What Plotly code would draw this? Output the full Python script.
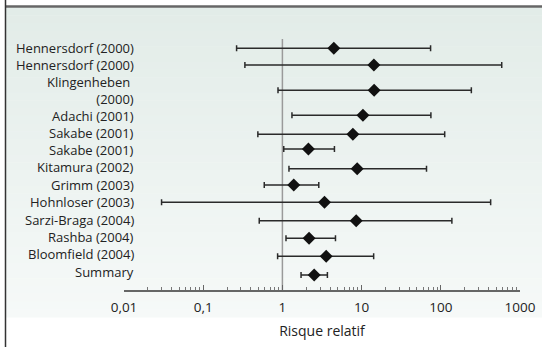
import plotly.graph_objects as go

# ---- data ----
studies = ["Hennersdorf (2000)", "Hennersdorf (2000)", "Klingenheben\u00a0<br>(2000)",
           "Adachi (2001)", "Sakabe (2001)", "Sakabe (2001)", "Kitamura (2002)",
           "Grimm (2003)", "Hohnloser (2003)", "Sarzi-Braga (2004)", "Rashba (2004)",
           "Bloomfield (2004)", "Summary"]
rr = [4.46, 14.3, 14.4, 10.4, 7.76, 2.13, 8.8, 1.39, 3.4, 8.54, 2.17, 3.57, 2.52]
ci_low = [0.264, 0.336, 0.88, 1.32, 0.49, 1.04, 1.21, 0.59, 0.0298, 0.51, 1.11, 0.87, 1.72]
ci_high = [74.3, 588, 243, 75, 112, 4.54, 66, 2.88, 426, 138, 4.68, 14.2, 3.7]
tick_vals = [0.01, 0.1, 1, 10, 100, 1000]
tick_text = ["0,01", "0,1", "1", "10", "100", "1000"]
x_title = "Risque relatif"

# row positions (vertical layout of rows / labels, in plot units = screen pixels)
row_pos = [48.3, 65, 90.3, 115.3, 134.3, 149, 168.7, 185, 202.3, 220.7, 238.3, 256.3, 275]
label_pos = [47.5, 65, 90.5, 115.5, 132.7, 150, 167.3, 185.3, 202.3, 220, 236.7, 254.3, 272.3]

# ---- layout geometry ----
W, H = 542, 347
ML, MR, MT, MB = 124, 22, 39, 57
PW, PH = W - ML - MR, H - MT - MB


def px_x(px):
    return (px - ML) / PW


def px_y(py):
    return (H - MB - py) / PH


fig = go.Figure()

fig.add_trace(go.Scatter(
    x=rr, y=row_pos, mode="markers",
    marker=dict(symbol="diamond", size=10, color="#111111"),
    error_x=dict(type="data", symmetric=False,
                 array=[h - v for h, v in zip(ci_high, rr)],
                 arrayminus=[v - l for v, l in zip(rr, ci_low)],
                 color="#2a2a2a", thickness=1.5, width=3),
    hoverinfo="skip", showlegend=False, cliponaxis=False,
))

shapes = []
# gradient background panel
top_c = (226, 236, 232)
bot_c = (246, 249, 248)
y0p, y1p = 7.5, 317
n = 40
for i in range(n):
    t = i / (n - 1)
    c = tuple(round(top_c[k] + (bot_c[k] - top_c[k]) * t) for k in range(3))
    ya = y0p + (y1p - y0p) * i / n
    yb = y0p + (y1p - y0p) * (i + 1) / n + 0.5
    shapes.append(dict(type="rect", xref="paper", yref="paper",
                       x0=px_x(6), x1=px_x(W), y0=px_y(yb), y1=px_y(ya),
                       fillcolor="rgb(%d,%d,%d)" % c, line=dict(width=0), layer="below"))
# top rule
shapes.append(dict(type="line", xref="paper", yref="paper",
                   x0=px_x(5), x1=px_x(W), y0=px_y(6.5), y1=px_y(6.5),
                   line=dict(color="#666666", width=2.5), layer="above"))
# left border
shapes.append(dict(type="line", xref="paper", yref="paper",
                   x0=px_x(5.5), x1=px_x(5.5), y0=px_y(0), y1=px_y(H),
                   line=dict(color="#333333", width=1.5), layer="above"))
# reference line at RR = 1
shapes.append(dict(type="line", xref="x", yref="paper",
                   x0=1, x1=1, y0=0, y1=1,
                   line=dict(color="#9a9a9a", width=1.5), layer="below"))

annotations = []
for lab, y in zip(studies, label_pos):
    annotations.append(dict(x=px_x(136), xref="paper", y=y, yref="y",
                            text=lab, showarrow=False, xanchor="right", yanchor="middle",
                            align="right", font=dict(size=13, color="#222222")))

fig.update_layout(
    template="none",
    width=W, height=H,
    margin=dict(l=ML, r=MR, t=MT, b=MB, autoexpand=False),
    paper_bgcolor="white", plot_bgcolor="rgba(0,0,0,0)",
    font=dict(family="Open Sans, Arial, sans-serif", size=13.5, color="#222222"),
    shapes=shapes, annotations=annotations,
    xaxis=dict(type="log", range=[-2, 3], tickvals=tick_vals, ticktext=tick_text,
               automargin=False,
               showline=True, linecolor="#666666", linewidth=1.5,
               ticks="inside", ticklen=5, tickcolor="#666666", tickwidth=1,
               minor=dict(ticks="inside", ticklen=3, tickcolor="#777777", tickwidth=1,
                          dtick="D1", showgrid=False),
               showgrid=False, zeroline=False,
               tickfont=dict(size=13.5, color="#222222"), ticklabelstandoff=4,
               title=dict(text=x_title, font=dict(size=14, color="#222222"), standoff=11)),
    yaxis=dict(range=[H - MB, MT], showticklabels=False, showgrid=False,
               automargin=False, zeroline=False, showline=False, ticks=""),
)

fig.write_html("out.html", config={"displayModeBar": False},
               post_script="document.body.style.margin='0';document.body.style.overflow='hidden';")
